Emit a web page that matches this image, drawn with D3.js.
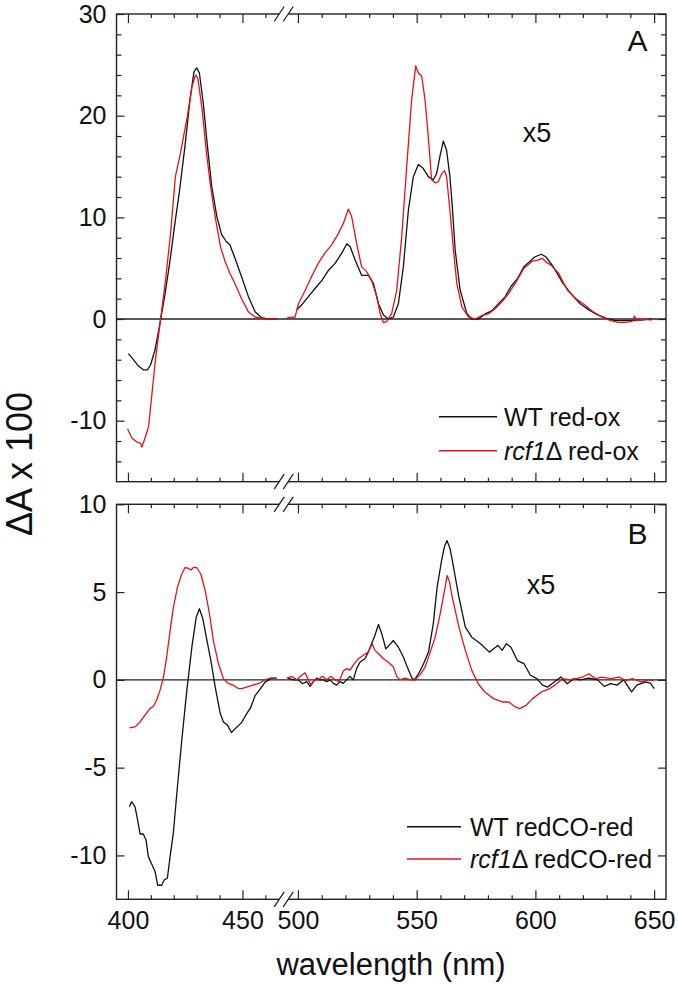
<!DOCTYPE html>
<html>
<head>
<meta charset="utf-8">
<script src="https://cdn.jsdelivr.net/npm/d3@7"></script>
<style>
  html, body { margin: 0; padding: 0; background: #fff; }
  svg { display: block; }
  text { font-family: "Liberation Sans", Arial, Helvetica, sans-serif; fill: #111; }
</style>
</head>
<body>
<svg id="chart" width="678" height="986"></svg>
<script>
// ---------------- DATA ----------------
const xMajorTicks = [400, 450, 500, 550, 600, 650];
const xMinorTicks = [410, 420, 430, 440, 460, 510, 520, 530, 540, 560, 570, 580, 590, 610, 620, 630, 640];
const yTicksA = [-10, 0, 10, 20, 30];
const yTicksB = [-10, -5, 0, 5, 10];
const seriesNamesA = ["WT red-ox", "red-ox"];
const seriesNamesB = ["WT redCO-red", "redCO-red"];

// Panel A, WT (black) — [wavelength nm, ΔA x 100]
const aWtLeft = [[400.2,-3.4],[402.4,-4.0],[404.5,-4.6],[406.7,-5.0],[408.5,-5.0],[409.9,-4.5],[411.8,-3.05],[414.0,-0.4],[416.2,2.5],[418.4,5.8],[420.5,9.4],[422.4,12.4],[424.9,17.0],[427.1,21.6],[428.8,24.3],[430.0,24.7],[431.2,24.2],[432.9,21.2],[434.7,17.0],[436.6,13.0],[438.8,10.1],[440.9,8.3],[443.0,7.6],[444.5,7.3],[446.7,6.0],[449.6,4.16],[452.6,2.2],[455.5,0.72],[458.4,0.13],[461.3,0],[465,0]];
const aWtRight = [[499.5,0.9],[501.6,1.4],[504.4,2.2],[507.2,3.0],[510.1,3.8],[512.9,4.8],[515.7,5.5],[518.5,6.5],[520.6,7.4],[522.0,7.1],[524.1,5.8],[526.8,4.3],[529.7,4.3],[531.8,3.5],[533.9,1.5],[536.0,0.4],[538.1,0],[540.2,0.2],[542.3,1.5],[544.4,5.15],[546.5,10.7],[548.6,14.0],[550.7,15.2],[552.8,14.8],[554.9,14.0],[557.0,13.7],[558.4,14.3],[559.8,16.0],[561.2,17.5],[562.6,16.6],[564.0,14.0],[565.0,11.1],[566.2,6.8],[568.3,2.85],[571.1,0.56],[573.2,0],[576.0,0],[578.8,0.5],[581.6,0.8],[584.5,1.5],[587.3,2.2],[589.7,3.2],[592.5,4.0],[595.2,5.15],[599.7,6.1],[602.5,6.37],[604.5,6.1],[607.5,5.15],[611.6,3.5],[615.3,2.4],[618.9,1.5],[622.5,0.9],[626.2,0.4],[629.9,0.07],[633.5,-0.16],[639.0,-0.16],[644.4,-0.1],[649,0]];
// Panel A, rcf1Δ (red)
const aRcfLeft = [[399.8,-10.8],[401.7,-11.7],[403.9,-12.1],[405.4,-12.2],[406.1,-12.6],[407.6,-11.6],[409.0,-10.6],[410.5,-7.3],[412.0,-4.0],[414.2,-0.1],[416.4,3.8],[418.6,8.4],[420.7,14.0],[422.9,16.3],[425.9,19.9],[428.0,22.9],[429.5,24.0],[430.5,23.7],[432.4,20.6],[434.3,16.3],[436.1,13.0],[438.2,9.9],[440.4,7.1],[442.5,5.6],[444.5,4.5],[446.7,3.5],[449.6,2.0],[452.6,0.7],[455.5,0.2],[459.9,0],[465,0]];
const aRcfRight = [[495.3,0.1],[498.8,0.2],[500.2,1.5],[503.0,2.8],[505.8,4.2],[508.6,5.5],[511.4,6.5],[514.2,7.3],[517.0,8.4],[519.1,9.4],[521.2,10.8],[522.6,10.1],[524.7,7.45],[526.8,5.15],[528.9,4.66],[531.0,3.8],[533.2,2.2],[534.6,0.56],[536.0,-0.36],[537.4,-0.26],[539.5,0.56],[541.6,2.85],[543.7,8.1],[545.8,15.0],[547.9,21.6],[549.6,24.9],[550.7,24.2],[552.1,23.9],[553.5,21.6],[554.9,17.9],[556.3,13.7],[557.7,13.4],[559.1,13.5],[560.5,14.3],[561.7,14.6],[562.6,14.0],[564.0,10.7],[565.5,6.8],[566.9,3.5],[569.0,1.2],[571.8,0.2],[574.6,0],[577.4,0.35],[580.2,0.5],[583.0,1.0],[585.9,1.7],[588.7,2.5],[591.5,3.5],[595.2,5.0],[598.8,5.7],[601.0,5.8],[602.9,5.97],[604.5,5.6],[606.5,5.3],[609.8,4.5],[613.4,2.85],[617.1,2.0],[620.7,1.4],[624.4,0.7],[628.0,0.2],[631.7,-0.16],[635.3,-0.36],[639.0,-0.3],[641.0,-0.2],[641.7,0.3],[642.6,-0.16],[646.3,0],[649,-0.1]];

// Panel B, WT (black)
const bWtLeft = [[400.6,-7.23],[401.6,-6.94],[403.1,-7.23],[404.5,-8.17],[405.3,-8.78],[406.7,-8.78],[407.9,-9.12],[408.9,-10.07],[410.4,-10.5],[411.8,-10.9],[413.0,-11.7],[414.7,-11.7],[415.8,-11.4],[417.2,-11.3],[418.4,-10.07],[419.8,-8.74],[421.6,-6.09],[423.5,-3.44],[425.7,-0.6],[427.9,1.86],[429.8,3.57],[431.2,4.05],[432.7,3.48],[434.5,2.24],[436.2,1.1],[438.1,-0.41],[440.3,-1.92],[441.7,-2.4],[443.5,-2.59],[445.2,-3.0],[447.6,-2.68],[449.5,-2.45],[451.5,-2.0],[453.5,-1.6],[455.5,-0.9],[457.3,-0.6],[459.9,-0.13],[462.8,0.1],[465,0.1]];
const bWtRight = [[495.7,0.1],[498.1,0],[500.2,0],[501.9,-0.22],[503.7,-0.1],[505.1,-0.37],[506.5,-0.1],[507.9,0.1],[509.3,0],[510.7,0],[512.1,-0.1],[513.5,0],[514.9,-0.2],[516.3,-0.3],[517.7,-0.1],[519.1,-0.2],[520.5,0],[521.9,0.2],[523.3,0],[524.7,0.64],[526.1,1.0],[528.2,1.2],[529.6,1.58],[531.0,2.06],[532.4,2.53],[533.9,3.15],[535.3,2.63],[537.0,1.77],[538.4,1.96],[540.2,2.24],[542.3,1.86],[544.4,1.3],[546.3,0.64],[548.0,0.1],[549.0,0],[550.8,0.35],[552.9,0.92],[555.0,1.6],[557.0,3.2],[558.6,5.27],[560.5,6.8],[561.7,7.6],[562.8,7.93],[564.0,7.5],[565.0,6.8],[567.8,4.7],[570.5,3.0],[573.2,2.43],[576.9,2.06],[580.6,1.58],[582.4,1.77],[584.2,1.96],[586.0,1.68],[587.8,2.06],[589.7,1.86],[592.4,1.1],[595.2,0.92],[597.9,0.26],[600.6,0.07],[603.0,-0.3],[605.2,-0.41],[607.9,-0.12],[610.7,0.16],[613.4,-0.22],[616.2,0.07],[618.9,0],[622.5,0.1],[626.2,0],[629.0,-0.37],[631.7,-0.22],[634.4,-0.3],[637.2,0],[640.5,-0.69],[642.7,-0.3],[646.4,-0.12],[648.5,-0.2],[650,-0.5]];
// Panel B, rcf1Δ (red)
const bRcfLeft = [[400.6,-2.74],[403.1,-2.68],[405.3,-2.4],[407.5,-2.0],[409.6,-1.64],[411.1,-1.5],[412.5,-1.16],[414.0,-0.6],[415.5,0.16],[416.9,1.3],[418.4,2.8],[419.8,4.1],[421.6,5.27],[423.5,6.03],[424.9,6.4],[426.4,6.35],[427.5,6.26],[428.6,6.4],[430.0,6.4],[431.8,6.03],[433.7,5.09],[435.6,3.76],[437.3,2.24],[439.5,0.92],[441.7,0.07],[443.9,-0.22],[446.1,-0.31],[448.3,-0.5],[449.6,-0.5],[451.8,-0.41],[454.0,-0.31],[456.9,-0.22],[459.9,0],[462.0,0.1],[464.3,0.1]];
const bRcfRight = [[495.3,0.1],[497.4,0.2],[499.5,0],[501.4,0.25],[503.0,0.4],[504.4,0],[505.5,-0.3],[506.9,0],[508.6,0],[510.3,0.2],[512.1,0],[513.9,0.2],[515.6,0],[517.3,-0.1],[519.1,0.5],[520.5,0.64],[521.9,0.55],[523.7,0.92],[525.4,1.2],[527.5,1.4],[529.6,1.58],[531.3,2.06],[532.4,1.68],[533.9,1.5],[536.0,1.2],[538.1,1.0],[540.2,0.74],[541.6,0.2],[543.0,0],[545.1,0.1],[547.2,0],[549.3,0],[551.5,0.3],[553.6,0.74],[555.7,1.58],[557.8,2.43],[559.9,3.76],[562.0,5.3],[562.8,5.94],[563.8,5.6],[565.0,4.7],[567.8,3.0],[570.5,1.68],[573.2,0.54],[575.9,-0.22],[578.7,-0.69],[582.4,-1.07],[586.0,-1.26],[588.8,-1.26],[591.5,-1.54],[593.3,-1.64],[596.1,-1.45],[598.8,-1.07],[602.5,-0.69],[606.1,-0.5],[608.9,-0.22],[611.6,0.07],[614.3,0],[617.1,0.07],[619.8,0.16],[622.5,0.35],[625.3,0.07],[628,0.16],[631.7,0.07],[635.3,0.16],[638.0,-0.05],[640.8,0.07],[644.5,-0.12],[648.1,0],[650,-0.05]];

// ---------------- LAYOUT ----------------
const BLACK = "#111111", RED = "#e3131b";
const FONT = 25;
const left = 116.5, right = 666, breakX = 283.7;
const svg = d3.select("#chart");

// Broken x axis: 395–468 | 494–655 (segment between collapses onto the break)
const x = d3.scaleLinear().domain([395, 468, 494, 655]).range([left, breakX, breakX, right]);

const panels = [
  { top: 14, bottom: 481.7, domain: [-16, 30], ticks: yTicksA, minorStep: 2,
    series: [[aWtLeft, aWtRight, BLACK], [aRcfLeft, aRcfRight, RED]],
    letter: "A", letterPos: [637.5, 51], x5Pos: [537, 142],
    legend: { x1: 439, x2: 497, tx: 504, ys: [416.7, 450.7], names: seriesNamesA },
    showXLabels: false },
  { top: 504.3, bottom: 899.3, domain: [-12.5, 10], ticks: yTicksB, minorStep: 1,
    series: [[bWtLeft, bWtRight, BLACK], [bRcfLeft, bRcfRight, RED]],
    letter: "B", letterPos: [637.5, 543.5], x5Pos: [541, 594],
    legend: { x1: 407, x2: 461, tx: 470, ys: [826.7, 859], names: seriesNamesB },
    showXLabels: true }
];

const fmt = d => String(d);

panels.forEach(p => {
  const y = d3.scaleLinear().domain(p.domain).range([p.bottom, p.top]);
  const g = svg.append("g");

  // zero line
  g.append("line").attr("x1", left).attr("x2", right)
    .attr("y1", y(0)).attr("y2", y(0))
    .attr("stroke", "#222").attr("stroke-width", 1.4);

  // curves (left & right of the break)
  const line = d3.line().x(d => x(d[0])).y(d => y(d[1]));
  p.series.forEach(([segL, segR, col]) => {
    [segL, segR].forEach(seg => {
      g.append("path").datum(seg).attr("d", line)
        .attr("fill", "none").attr("stroke", col).attr("stroke-width", 1.3)
        .attr("stroke-linejoin", "round");
    });
  });

  // y minor ticks
  const yMinor = d3.range(p.domain[0], p.domain[1] + 0.001, p.minorStep)
    .filter(v => Math.ceil(v) === v && !p.ticks.includes(v) && v > p.domain[0]);

  // Left axis (labels)
  g.append("g").attr("transform", `translate(${left},0)`)
    .call(d3.axisLeft(y).tickValues(p.ticks).tickFormat(fmt).tickSizeInner(-8).tickSizeOuter(0).tickPadding(10));
  g.append("g").attr("transform", `translate(${left},0)`)
    .call(d3.axisLeft(y).tickValues(yMinor).tickFormat("").tickSizeInner(-5).tickSizeOuter(0));
  // Right axis
  g.append("g").attr("transform", `translate(${right},0)`)
    .call(d3.axisRight(y).tickValues(p.ticks).tickFormat("").tickSizeInner(-8).tickSizeOuter(0));
  g.append("g").attr("transform", `translate(${right},0)`)
    .call(d3.axisRight(y).tickValues(yMinor).tickFormat("").tickSizeInner(-5).tickSizeOuter(0));
  // Top axis
  g.append("g").attr("transform", `translate(0,${p.top})`)
    .call(d3.axisTop(x).tickValues(xMajorTicks).tickFormat("").tickSizeInner(-9).tickSizeOuter(0));
  g.append("g").attr("transform", `translate(0,${p.top})`)
    .call(d3.axisTop(x).tickValues(xMinorTicks).tickFormat("").tickSizeInner(-4).tickSizeOuter(0));
  // Bottom axis
  g.append("g").attr("transform", `translate(0,${p.bottom})`)
    .call(d3.axisBottom(x).tickValues(xMajorTicks)
      .tickFormat(p.showXLabels ? fmt : "").tickSizeInner(-9).tickSizeOuter(0).tickPadding(12));
  g.append("g").attr("transform", `translate(0,${p.bottom})`)
    .call(d3.axisBottom(x).tickValues(xMinorTicks).tickFormat("").tickSizeInner(-4).tickSizeOuter(0));

  g.selectAll(".domain").remove();
  g.selectAll(".tick line").attr("stroke", "#222").attr("stroke-width", 1.2);
  g.selectAll(".tick text").attr("font-size", FONT).attr("fill", "#111")
    .attr("font-family", '"Liberation Sans", Arial, sans-serif');

  // frame
  g.append("rect").attr("x", left).attr("y", p.top)
    .attr("width", right - left).attr("height", p.bottom - p.top)
    .attr("fill", "none").attr("stroke", "#222").attr("stroke-width", 1.4);

  // break marks on top and bottom edges
  [p.top, p.bottom].forEach(yy => {
    g.append("rect").attr("x", breakX - 4.5).attr("y", yy - 2).attr("width", 9).attr("height", 4).attr("fill", "#fff");
    [-4.5, 4.5].forEach(dx => {
      g.append("line")
        .attr("x1", breakX + dx - 5).attr("y1", yy + 7.5)
        .attr("x2", breakX + dx + 5).attr("y2", yy - 7.5)
        .attr("stroke", "#222").attr("stroke-width", 1.3);
    });
  });

  // panel letter and x5
  g.append("text").attr("x", p.letterPos[0]).attr("y", p.letterPos[1])
    .attr("text-anchor", "middle").attr("font-size", 30).text(p.letter);
  g.append("text").attr("x", p.x5Pos[0]).attr("y", p.x5Pos[1])
    .attr("text-anchor", "middle").attr("font-size", 27).text("x5");

  // legend
  const L = p.legend;
  [BLACK, RED].forEach((col, i) => {
    const yy = L.ys[i];
    g.append("line").attr("x1", L.x1).attr("x2", L.x2).attr("y1", yy).attr("y2", yy)
      .attr("stroke", col).attr("stroke-width", 1.5);
    const t = g.append("text").attr("x", L.tx).attr("y", yy + 9).attr("font-size", FONT);
    if (i === 0) {
      t.text(L.names[0]);
    } else {
      t.append("tspan").attr("font-style", "italic").text("rcf1");
      t.append("tspan").text("\u0394 " + L.names[1]);
    }
  });
});

// axis titles
svg.append("text").attr("x", 391).attr("y", 975).attr("text-anchor", "middle")
  .attr("font-size", 31).text("wavelength (nm)");
svg.append("text").attr("transform", "translate(32,464) rotate(-90)")
  .attr("text-anchor", "middle").attr("font-size", 36).text("\u0394A x 100");
</script>
</body>
</html>
